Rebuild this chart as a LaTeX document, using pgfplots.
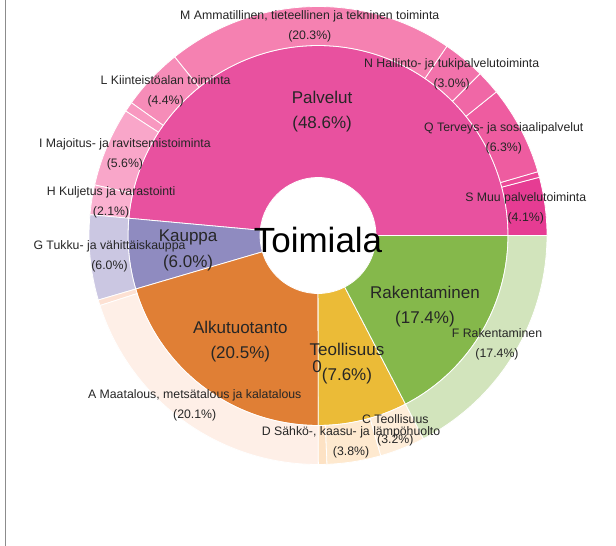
\documentclass[border=0pt]{standalone}
\usepackage{pgfplots}
\usepackage{pgfplotstable}
\pgfplotsset{compat=1.18}
\usepackage{fontspec}
\setmainfont{Liberation Sans}

\definecolor{cPal}{HTML}{E8519F}
\definecolor{cKau}{HTML}{8F8BC0}
\definecolor{cAlk}{HTML}{E07F35}
\definecolor{cTeo}{HTML}{EBBB37}
\definecolor{cRak}{HTML}{85B84B}
\definecolor{cS}{HTML}{E63C93}
\definecolor{cR}{HTML}{EB4A98}
\definecolor{cQ}{HTML}{EE5CA0}
\definecolor{cP}{HTML}{F067A6}
\definecolor{cN}{HTML}{F272AB}
\definecolor{cM}{HTML}{F581B1}
\definecolor{cL}{HTML}{F68CB8}
\definecolor{cK}{HTML}{F898C0}
\definecolor{cI}{HTML}{F9A6C9}
\definecolor{cH}{HTML}{FAB1D0}
\definecolor{cG}{HTML}{CBC7E2}
\definecolor{cB}{HTML}{FDE1D3}
\definecolor{cA}{HTML}{FEEFE7}
\definecolor{cE}{HTML}{FDE2C4}
\definecolor{cD}{HTML}{FEE9CF}
\definecolor{cC}{HTML}{FEEDD9}
\definecolor{cF}{HTML}{D2E4BC}
\definecolor{labcol}{HTML}{262626}
\definecolor{framegray}{HTML}{8C8C8C}

% inner ring (Toimiala groups), counter-clockwise from 3 o'clock
\pgfplotstableread[col sep=semicolon]{
name;pct;col;dx;dy
Palvelut;48.6;cPal;-1.5;0
Kauppa;6.0;cKau;-6.5;-3
Alkutuotanto;20.5;cAlk;-3.5;-7
Teollisuus;7.6;cTeo;-0.5;-7.5
Rakentaminen;17.4;cRak;1;-6.5
}\innertab

% outer ring (Toimiala classes)
\pgfplotstableread[col sep=semicolon]{
name;pct;col;show
S Muu palvelutoiminta;4.1;cS;1
R Taiteet, viihde ja virkistys;0.4;cR;0
Q Terveys- ja sosiaalipalvelut;6.3;cQ;1
P Koulutus;1.7;cP;0
N Hallinto- ja tukipalvelutoiminta;3.0;cN;1
M Ammatillinen, tieteellinen ja tekninen toiminta;20.3;cM;1
L Kiinteistöalan toiminta;4.4;cL;1
K Rahoitus- ja vakuutustoiminta;0.7;cK;0
I Majoitus- ja ravitsemistoiminta;5.6;cI;1
H Kuljetus ja varastointi;2.1;cH;1
G Tukku- ja vähittäiskauppa;6.0;cG;1
B Kaivostoiminta ja louhinta;0.4;cB;0
A Maatalous, metsätalous ja kalatalous;20.1;cA;1
E Vesi-, viemäri- ja jätehuolto;0.6;cE;0
D Sähkö-, kaasu- ja lämpöhuolto;3.8;cD;1
C Teollisuus;3.2;cC;1
F Rakentaminen;17.4;cF;1
}\outertab

\def\total{100.1}
% cumulative angles, inner ring
\def\cum{0}%
\foreach \i in {0,...,4}{%
  \pgfplotstablegetelem{\i}{pct}\of\innertab
  \global\let\curpct\pgfplotsretval
  \pgfmathsetmacro\angA{(\cum/\total)*360}%
  \pgfmathsetmacro\newcum{\cum+\curpct}%
  \pgfmathsetmacro\angB{(\newcum/\total)*360}%
  \pgfmathsetmacro\angM{(\angA+\angB)/2}%
  \expandafter\xdef\csname ia\i\endcsname{\angA}%
  \expandafter\xdef\csname ib\i\endcsname{\angB}%
  \expandafter\xdef\csname im\i\endcsname{\angM}%
  \expandafter\xdef\csname ip\i\endcsname{\curpct}%
  \pgfplotstablegetelem{\i}{col}\of\innertab
  \expandafter\xdef\csname ic\i\endcsname{\pgfplotsretval}%
  \pgfplotstablegetelem{\i}{name}\of\innertab
  \expandafter\xdef\csname in\i\endcsname{\pgfplotsretval}%
  \pgfplotstablegetelem{\i}{dx}\of\innertab
  \expandafter\xdef\csname ix\i\endcsname{\pgfplotsretval}%
  \pgfplotstablegetelem{\i}{dy}\of\innertab
  \expandafter\xdef\csname iy\i\endcsname{\pgfplotsretval}%
  \xdef\cum{\newcum}%
}%
% cumulative angles, outer ring
\def\cum{0}%
\foreach \i in {0,...,16}{%
  \pgfplotstablegetelem{\i}{pct}\of\outertab
  \global\let\curpct\pgfplotsretval
  \pgfmathsetmacro\angA{(\cum/\total)*360}%
  \pgfmathsetmacro\newcum{\cum+\curpct}%
  \pgfmathsetmacro\angB{(\newcum/\total)*360}%
  \pgfmathsetmacro\angM{(\angA+\angB)/2}%
  \expandafter\xdef\csname oa\i\endcsname{\angA}%
  \expandafter\xdef\csname ob\i\endcsname{\angB}%
  \expandafter\xdef\csname om\i\endcsname{\angM}%
  \expandafter\xdef\csname op\i\endcsname{\curpct}%
  \pgfplotstablegetelem{\i}{col}\of\outertab
  \expandafter\xdef\csname oc\i\endcsname{\pgfplotsretval}%
  \pgfplotstablegetelem{\i}{name}\of\outertab
  \expandafter\xdef\csname on\i\endcsname{\pgfplotsretval}%
  \pgfplotstablegetelem{\i}{show}\of\outertab
  \expandafter\xdef\csname os\i\endcsname{\pgfplotsretval}%
  \xdef\cum{\newcum}%
}%

% annular wedge: r1, r2, start angle, end angle, colour
\newcommand\ringwedge[5]{%
  \filldraw[fill=#5, draw=white, line width=0.8pt, line join=round]
    ([shift={(#3:#1pt)}]C) -- ([shift={(#3:#2pt)}]C)
    arc[start angle=#3, end angle=#4, radius=#2pt]
    -- ([shift={(#4:#1pt)}]C)
    arc[start angle=#4, end angle=#3, radius=#1pt] -- cycle;}
\newcommand\outlabel[3]{%
  \node[inner sep=0pt, align=center, text=labcol,
        font=\fontsize{12.3}{20}\selectfont]
    at ([shift={(#1:209.5pt)}]C) {#2\\(#3\%)};}
\newcommand\inlabel[5]{%
  \node[inner sep=0pt, align=center, text=labcol,
        font=\fontsize{17}{25.5}\selectfont]
    at ([shift={(#1:124pt)},xshift=#4pt,yshift=#5pt]C) {#2\\(#3\%)};}

\begin{document}
\begin{tikzpicture}
\useasboundingbox (0,0) rectangle (616pt,546pt);
\fill[white] (0,0) rectangle (616pt,546pt);
\draw[framegray, line width=1.5pt] (5.7pt,0) -- (5.7pt,546pt);
\begin{axis}[at={(0pt,0pt)}, anchor=south west,
  x=1pt, y=1pt, xmin=0, xmax=616, ymin=0, ymax=546,
  hide axis, clip=false]
\coordinate (C) at (axis cs:318,310.5);
\pgfplotsinvokeforeach{0,...,4}{%
  \edef\tmp{\noexpand\ringwedge{58}{190}{\csname ia#1\endcsname}{\csname ib#1\endcsname}{\csname ic#1\endcsname}}\tmp
}
\pgfplotsinvokeforeach{0,...,16}{%
  \edef\tmp{\noexpand\ringwedge{190}{229}{\csname oa#1\endcsname}{\csname ob#1\endcsname}{\csname oc#1\endcsname}}\tmp
}
\pgfplotsinvokeforeach{0,...,16}{%
  \ifnum\csname os#1\endcsname=1\relax
    \edef\tmp{\noexpand\outlabel{\csname om#1\endcsname}{\csname on#1\endcsname}{\csname op#1\endcsname}}\tmp
  \fi
}
\pgfplotsinvokeforeach{0,...,4}{%
  \edef\tmp{\noexpand\inlabel{\csname im#1\endcsname}{\csname in#1\endcsname}{\csname ip#1\endcsname}{\csname ix#1\endcsname}{\csname iy#1\endcsname}}\tmp
}
\edef\tmp{\noexpand\node[inner sep=0pt, text=labcol, font=\noexpand\fontsize{17}{20}\noexpand\selectfont]
  at ([shift={(\csname im3\endcsname:124pt)},xshift=-30.5pt,yshift=-11pt]C) {0};}\tmp
\node[inner sep=0pt, text=black, font=\fontsize{35}{40}\selectfont] at (axis cs:318,306.5) {Toimiala};
\end{axis}
\end{tikzpicture}
\end{document}
